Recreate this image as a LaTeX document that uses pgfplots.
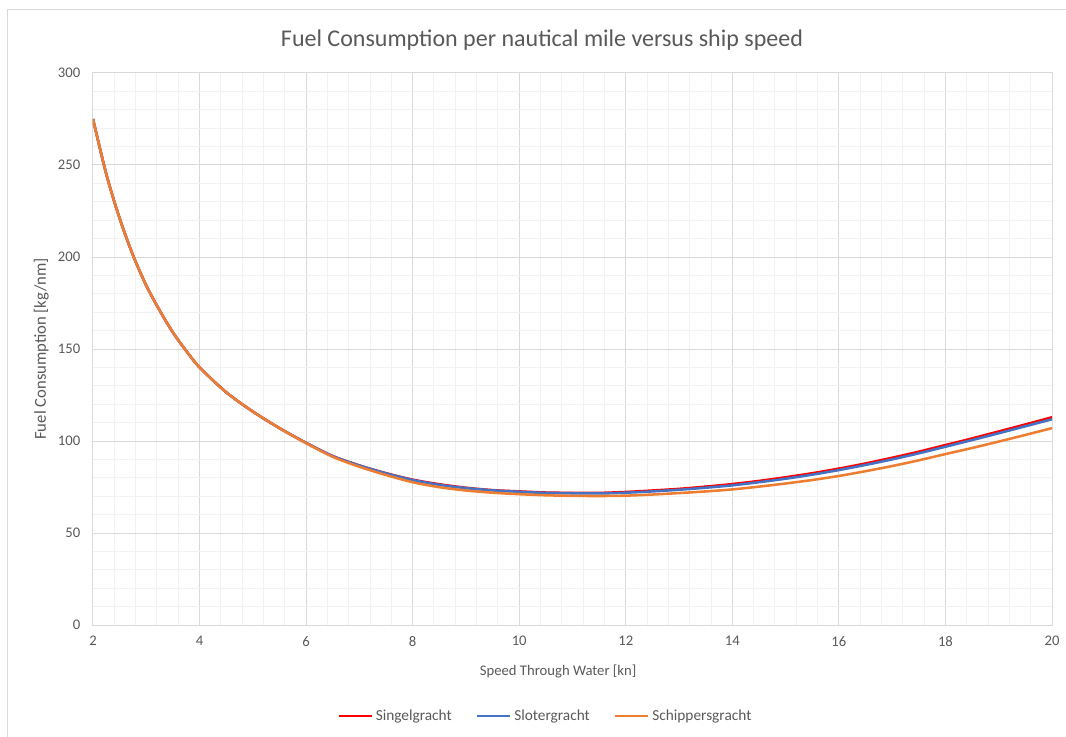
\documentclass[border=0pt]{standalone}
\usepackage{fontspec}
\setmainfont{Carlito}
\usepackage{pgfplots}
\usepackage{pgfplotstable}
\pgfplotsset{compat=1.18}

\definecolor{txt}{HTML}{595959}
\definecolor{gmaj}{HTML}{D9D9D9}
\definecolor{gmin}{HTML}{F2F2F2}
\definecolor{cred}{HTML}{FF0000}
\definecolor{cblue}{HTML}{4472C4}
\definecolor{corange}{HTML}{ED7D31}

% speed [kn], fuel per nm [kg/nm] for the three ships
\pgfplotstableread{
v     sing   slot   schip
2.0   275    275    275
2.25  245    245    245
2.5   221    221    221
2.75  201    201    201
3.0   184.5  184.5  184.5
3.25  171    171    171
3.5   159    159    159
3.75  149    149    149
4.0   140    140    140
4.5   126.5  126.5  126.5
5.0   116    116    116
5.5   107    107    107
6.0   99     99     98.8
6.5   91.8   91.8   91.4
7.0   86.7   86.7   86.0
7.5   82.5   82.4   81.5
8.0   79.0   78.8   77.6
8.5   76.5   76.2   74.9
9.0   74.6   74.4   73.1
9.5   73.3   73.2   71.9
10.0  72.6   72.4   71.1
10.5  72.0   71.8   70.5
11.0  71.8   71.6   70.2
11.5  71.8   71.5   70.1
12.0  72.3   71.9   70.3
12.5  73.1   72.6   70.9
13.0  74.0   73.5   71.7
13.5  75.2   74.6   72.6
14.0  76.6   75.9   73.7
14.5  78.3   77.6   75.2
15.0  80.3   79.5   76.9
15.5  82.5   81.7   78.8
16.0  85.0   84.2   81.0
16.5  87.8   87.0   83.6
17.0  90.9   90.0   86.4
17.5  94.2   93.3   89.5
18.0  97.8   96.9   92.9
18.5  101.4  100.5  96.2
19.0  105.2  104.2  99.7
19.5  109.0  108.0  103.3
20.0  112.9  111.8  107.0
}\fuel

\begin{document}
\begin{tikzpicture}[x=0.75pt,y=0.75pt]
\useasboundingbox (0,0) rectangle (1066,736);
\draw[gmaj, line width=0.75pt] (7,-5) -- (7,726) -- (1075,726);
\node[txt, font=\fontsize{18}{21}\selectfont] at (542,696) {Fuel Consumption per nautical mile versus ship speed};

\begin{axis}[
  at={(69.75pt,83.25pt)}, anchor=south west,
  width=719.25pt, height=414pt, scale only axis,
  xmin=2, xmax=20, ymin=0, ymax=300,
  xtick={2,4,...,20}, ytick={0,50,...,300},
  minor x tick num=4, minor y tick num=4,
  major tick length=0pt, minor tick length=0pt,
  grid=both,
  major grid style={gmaj, line width=0.75pt},
  minor grid style={gmin, line width=0.75pt},
  axis line style={gmaj, line width=0.75pt},
  tick label style={txt, font=\fontsize{11}{13}\selectfont},
  /pgf/number format/assume math mode=true,
  xticklabel style={yshift=-5pt},
  yticklabel style={xshift=-6pt},
  xlabel={Speed Through Water [kn]},
  ylabel={Fuel Consumption [kg/nm]},
  label style={txt},
  xlabel style={font=\fontsize{11}{13}\selectfont, at={(axis description cs:0.485,-0.085)}, anchor=center},
  ylabel style={font=\fontsize{12.5}{14}\selectfont, at={(axis description cs:-0.054,0.5)}, anchor=center},
  legend columns=3,
  legend style={at={(axis description cs:0.472,-0.165)}, anchor=center,
    draw=none, fill=none, font=\fontsize{11.5}{13}\selectfont, text=txt,
    /tikz/every even column/.append style={column sep=16pt}},
  legend image code/.code={\draw[#1, line width=1.9pt] (0pt,0pt) -- (25pt,0pt);},
]
\addplot[cred, line width=1.9pt, smooth] table[x=v, y=sing] {\fuel};
\addlegendentry{Singelgracht}
\addplot[cblue, line width=1.9pt, smooth] table[x=v, y=slot] {\fuel};
\addlegendentry{Slotergracht}
\addplot[corange, line width=1.9pt, smooth] table[x=v, y=schip] {\fuel};
\addlegendentry{Schippersgracht}
\end{axis}
\end{tikzpicture}
\end{document}
